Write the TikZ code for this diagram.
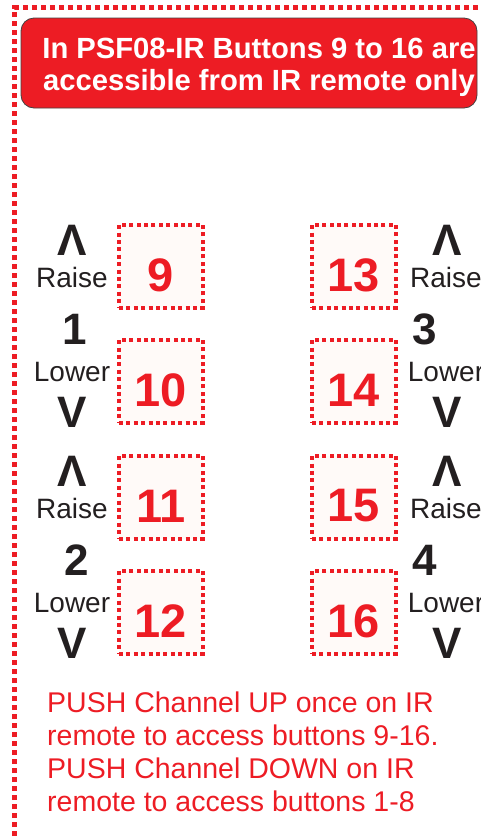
\documentclass[tikz,border=0pt]{standalone}
\usepackage{fontspec}
\setmainfont{Liberation Sans}
\definecolor{pred}{HTML}{ED1C24}
\definecolor{ink}{HTML}{231F20}
\definecolor{boxfill}{HTML}{FFFAF8}
\begin{document}
\begin{tikzpicture}[x=1pt,y=-1pt,
  frame/.style={draw=pred, line width=5pt, dash pattern=on 5pt off 4pt},
  btn/.style={draw=pred, fill=boxfill, line width=4pt, dash pattern=on 4pt off 3.4pt,
    minimum width=84pt, minimum height=83pt, inner sep=0pt},
  num/.style={text=pred, inner sep=0pt, font=\bfseries\fontsize{47}{47}\selectfont},
  lbl/.style={text=ink, inner sep=0pt, font=\fontsize{28}{28}\selectfont},
  big/.style={text=ink, inner sep=0pt, font=\bfseries\fontsize{44}{44}\selectfont},
  note/.style={text=pred, inner sep=0pt, anchor=base west, font=\fontsize{28.5}{33}\selectfont},
  head/.style={text=white, inner sep=0pt, anchor=base, font=\bfseries\fontsize{29.2}{32}\selectfont},
]
\useasboundingbox (0,0) rectangle (481,839);
\clip (0,0) rectangle (481,839);
% outer dotted frame
\draw[frame] (14.5,845) -- (14.5,7.5) -- (490,7.5);
% banner
\node[draw=ink!85, line width=0.8pt, fill=pred, rounded corners=13pt,
  minimum width=456pt, minimum height=90pt] (banner) at (249,63) {};
\node[head] (t1) at (259,58) {In PSF08-IR Buttons 9 to 16 are};
\node[head] (t2) at (259,90) {accessible from IR remote only};
% buttons
\foreach \n/\x/\y in {9/161/266, 10/161/381, 11/161/497, 12/161/612,
                      13/354/266, 14/354/381, 15/354/497, 16/354/612}{
  \node[btn] (b\n) at (\x,\y) {};
  \node[num] (n\n) at (\x,\y+9) {\n};
}
% left labels
\node[big] (upA) at (72,240) {Λ};
\node[lbl] (raiseA) at (72,277) {Raise};
\node[big] (ch1) at (75,329) {1};
\node[lbl] (lowerA) at (72,372) {Lower};
\node[big] (dnA) at (72,412) {V};
\node[big] (upB) at (72,471) {Λ};
\node[lbl] (raiseB) at (72,508) {Raise};
\node[big] (ch2) at (77,560) {2};
\node[lbl] (lowerB) at (72,603) {Lower};
\node[big] (dnB) at (72,643) {V};
% right labels
\node[big] (upC) at (447,240) {Λ};
\node[lbl] (raiseC) at (446,277) {Raise};
\node[big] (ch3) at (425,329) {3};
\node[lbl] (lowerC) at (446,372) {Lower};
\node[big] (dnC) at (447,412) {V};
\node[big] (upD) at (447,471) {Λ};
\node[lbl] (raiseD) at (446,508) {Raise};
\node[big] (ch4) at (425,560) {4};
\node[lbl] (lowerD) at (446,603) {Lower};
\node[big] (dnD) at (447,643) {V};
% bottom note
\node[note] (l1) at (47,712) {PUSH Channel UP once on IR};
\node[note] (l2) at (47,745) {remote to access buttons 9-16.};
\node[note] (l3) at (47,778) {PUSH Channel DOWN on IR};
\node[note] (l4) at (47,811) {remote to access buttons 1-8};
\end{tikzpicture}
\end{document}
